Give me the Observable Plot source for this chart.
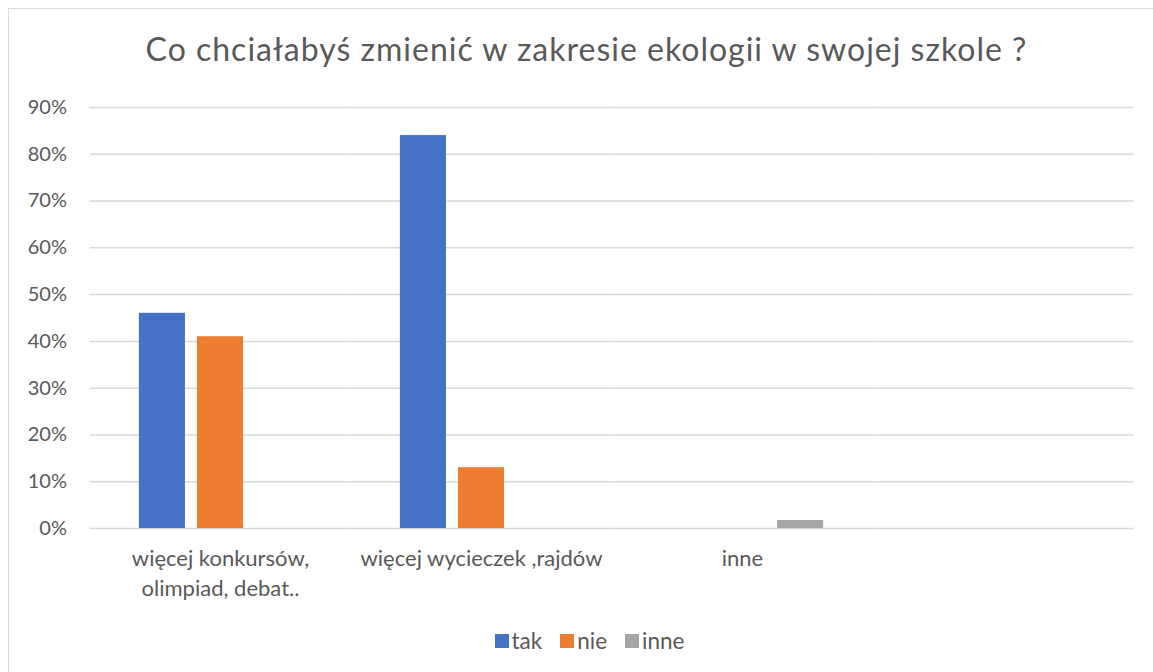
<!DOCTYPE html>
<html>
<head>
<meta charset="utf-8">
<script src="https://cdn.jsdelivr.net/npm/d3@7"></script>
<script src="https://cdn.jsdelivr.net/npm/@observablehq/plot@0.6"></script>
<style>
  html, body { margin: 0; padding: 0; background: #fff; overflow: hidden; }
  body { font-family: Lato, "Open Sans", sans-serif; color: #595959; width: 1153px; height: 672px; position: relative; }
  #frame { position: absolute; left: 8px; top: 8px; width: 1170px; height: 700px; border: 1px solid #d9d9d9; box-sizing: border-box; }
  #wrap { position: absolute; left: 0; top: 0; width: 1153px; }
  #title { height: 90px; position: relative; }
  #title span { position: absolute; left: 0; right: 0; top: 33px; text-align: center; font-size: 32px; letter-spacing: 1px; line-height: 1; white-space: nowrap; padding-left: 20px; }
  #chart svg { display: block; }
  #legend { display: flex; justify-content: center; align-items: center; gap: 18px; padding-top: 15px; padding-left: 26px; font-size: 22.5px; line-height: 22px; }
  #legend .item { display: flex; align-items: center; gap: 3px; }
  #legend .sw { width: 14px; height: 14px; display: inline-block; }
</style>
</head>
<body>
<div id="frame"></div>
<div id="wrap">
  <div id="title"><span></span></div>
  <div id="chart"></div>
  <div id="legend"></div>
</div>
<script>
const titleText = "Co chciałabyś zmienić w zakresie ekologii w swojej szkole ?";
const categories = ["więcej konkursów,\nolimpiad, debat..", "więcej wycieczek ,rajdów", "inne", " "];
const series = ["tak", "nie", "inne"];
const tak  = [0.46, 0.84, null, null];
const nie  = [0.41, 0.13, null, null];
const inne = [null, null, 0.017, null];
const colors = ["#4472C4", "#ED7D31", "#A5A5A5"];
const yTicks = [0, 0.1, 0.2, 0.3, 0.4, 0.5, 0.6, 0.7, 0.8, 0.9];

const valuesBySeries = {tak, nie, inne};
const rows = [];
categories.forEach((c, i) => {
  series.forEach(s => rows.push({category: c, series: s, value: valuesBySeries[s][i]}));
});

document.querySelector("#title span").textContent = titleText;

const chart = Plot.plot({
  width: 1153,
  height: 525,
  marginTop: 17,
  marginBottom: 87,
  marginLeft: 89.5,
  marginRight: 19.5,
  style: {fontFamily: "Lato, 'Open Sans', sans-serif", fontSize: "20px", color: "#595959", background: "transparent"},
  fx: {domain: categories, paddingInner: 0, paddingOuter: 0, label: null, round: false},
  x: {domain: series, paddingInner: 0.207, paddingOuter: 0.85, axis: null, round: false},
  y: {domain: [0, 0.9], label: null},
  color: {domain: series, range: colors},
  marks: [
    Plot.ruleY(yTicks, {stroke: "#d9d9d9", strokeWidth: 1.5}),
    Plot.barY(rows, {fx: "category", x: "series", y: "value", fill: "series"}),
    Plot.axisY(yTicks, {tickSize: 0, tickPadding: 23, tickFormat: d3.format(".0%"), label: null, fontSize: 20, fill: "#595959"}),
    Plot.axisFx({anchor: "bottom", tickSize: 0, tickPadding: 16, label: null, fontSize: 22, lineHeight: 1.36, fill: "#595959"})
  ]
});
document.getElementById("chart").appendChild(chart);

const legend = document.getElementById("legend");
series.forEach((s, i) => {
  const item = document.createElement("div");
  item.className = "item";
  const sw = document.createElement("span");
  sw.className = "sw";
  sw.style.background = colors[i];
  const lab = document.createElement("span");
  lab.textContent = s;
  item.appendChild(sw);
  item.appendChild(lab);
  legend.appendChild(item);
});
</script>
</body>
</html>
